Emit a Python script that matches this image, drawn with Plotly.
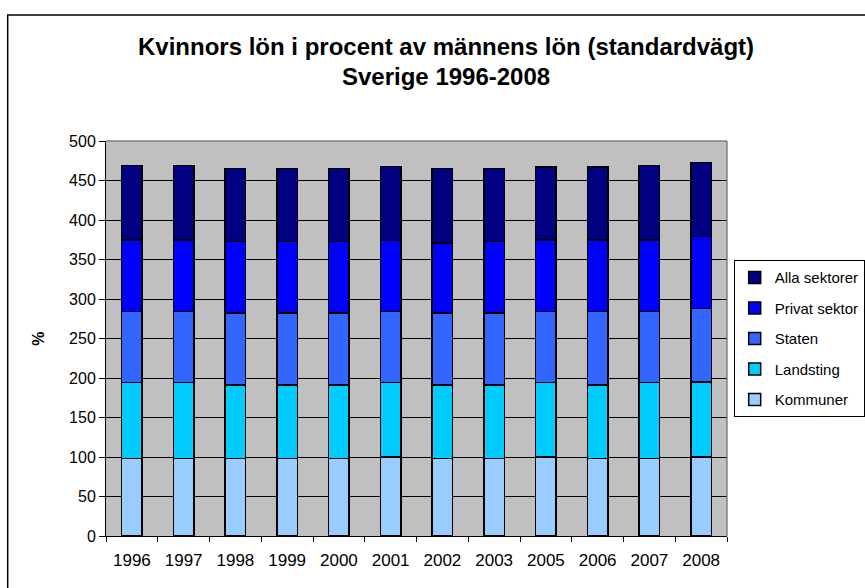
import plotly.graph_objects as go

years = ["1996", "1997", "1998", "1999", "2000", "2001", "2002", "2003", "2005", "2006", "2007", "2008"]
kommuner = [98, 98, 98, 98, 98, 100, 98, 98, 100, 98, 98, 100]
landsting = [96, 96, 93, 93, 93, 94, 93, 93, 94, 93, 96, 95]
staten = [90, 90, 91, 91, 91, 90, 91, 91, 90, 93, 90, 93]
privat = [91, 91, 91, 91, 91, 90, 89, 91, 91, 91, 91, 91]
alla = [94, 94, 92, 92, 92, 94, 94, 92, 92, 92, 94, 94]

series = [
    ("Kommuner", kommuner, "#99CCFF"),
    ("Landsting", landsting, "#00CCFF"),
    ("Staten", staten, "#3366FF"),
    ("Privat sektor", privat, "#0000FF"),
    ("Alla sektorer", alla, "#000080"),
]

W, H = 865, 588
L, R, T, B = 105.7, 727.3, 140.7, 535.7
PW, PH = R - L, B - T

def px(x):
    return (x - L) / PW

def py(y):
    return (B - y) / PH

FONT = "Liberation Sans, Arial, sans-serif"

fig = go.Figure()
n = len(series)
for i, (name, vals, col) in enumerate(series):
    fig.add_trace(go.Bar(
        x=years, y=vals, name=name, legendgroup=name, legendrank=n - i,
        marker=dict(color=col, line=dict(color="black", width=1.5)),
    ))

fig.update_layout(
    width=W, height=H,
    barmode="stack", bargap=0.6,
    paper_bgcolor="white", plot_bgcolor="#C0C0C0",
    margin=dict(l=L, r=W - R, t=T, b=H - B, autoexpand=False),
    font=dict(family=FONT, size=16, color="black"),
    showlegend=True,
    legend=dict(
        x=px(734), y=py(260), xanchor="left", yanchor="top",
        traceorder="grouped", tracegroupgap=8,
        bgcolor="white", bordercolor="black", borderwidth=1,
        font=dict(family=FONT, size=15, color="black"),
    ),
    xaxis=dict(
        type="category", tickson="boundaries", ticks="outside", ticklen=5,
        tickcolor="black", showline=True, linecolor="black", linewidth=1,
        showgrid=False, tickfont=dict(size=17), fixedrange=True,
        ticklabelstandoff=9,
    ),
    yaxis=dict(
        range=[0, 500], dtick=50, ticks="outside", ticklen=6, tickcolor="black",
        showline=True, linecolor="black", linewidth=1,
        showgrid=True, gridcolor="black", gridwidth=1,
        zeroline=False, tickfont=dict(size=16), fixedrange=True,
    ),
)

fig.add_shape(type="line", xref="paper", yref="paper", x0=0, x1=1, y0=1, y1=1,
              line=dict(color="#808080", width=1.5), layer="above")
fig.add_shape(type="line", xref="paper", yref="paper", x0=1, x1=1, y0=0, y1=1,
              line=dict(color="#808080", width=1.5), layer="above")
fig.add_shape(type="rect", xref="paper", yref="paper",
              x0=px(7.3), x1=px(920), y0=py(620), y1=py(14.7),
              line=dict(color="black", width=1.5), fillcolor="rgba(0,0,0,0)", layer="above")

fig.add_annotation(text="<b>Kvinnors lön i procent av männens lön (standardvägt)</b>",
                   x=px(446), y=py(46), xref="paper", yref="paper",
                   xanchor="center", yanchor="middle", showarrow=False,
                   font=dict(family=FONT, size=24, color="black"))
fig.add_annotation(text="<b>Sverige 1996-2008</b>",
                   x=px(446), y=py(76), xref="paper", yref="paper",
                   xanchor="center", yanchor="middle", showarrow=False,
                   font=dict(family=FONT, size=24, color="black"))
fig.add_annotation(text="<b>%</b>", textangle=-90,
                   x=px(38), y=0.5, xref="paper", yref="paper",
                   xanchor="center", yanchor="middle", showarrow=False,
                   font=dict(family=FONT, size=16, color="black"))

fig.write_html("out.html", config={"displayModeBar": False, "staticPlot": True},
               post_script="document.body.style.margin='0';document.body.style.overflow='hidden';")
